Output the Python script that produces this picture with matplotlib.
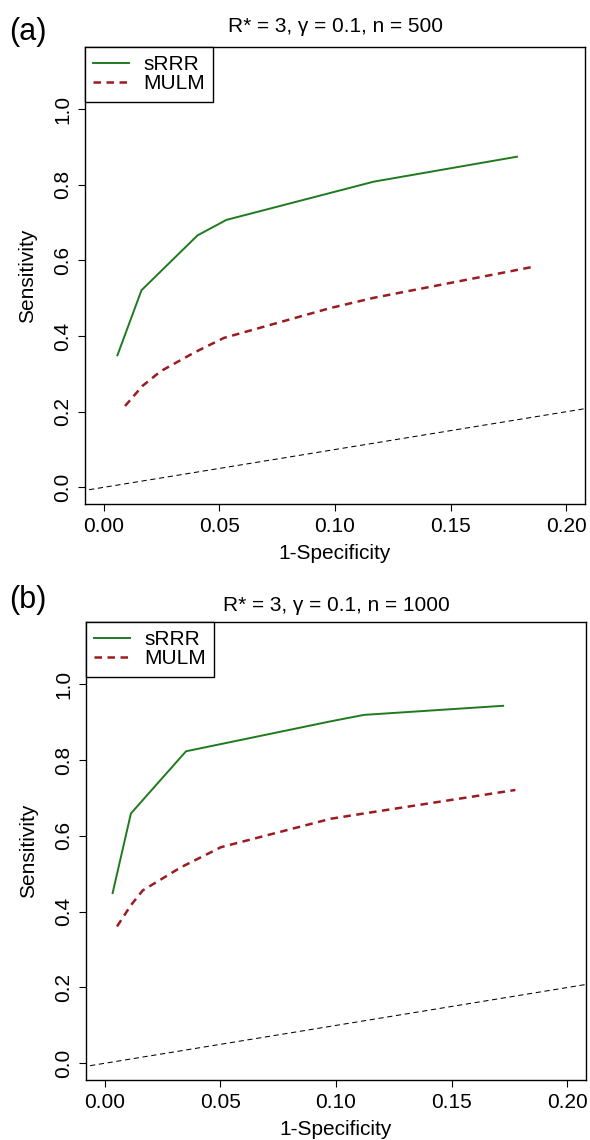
import numpy as np
import matplotlib.pyplot as plt

plt.rcParams['font.family'] = ['Liberation Sans', 'DejaVu Sans']

# panel (a): n = 500
fpr_srrr_a = [0.0060, 0.0164, 0.0406, 0.0531, 0.1167, 0.1786]
sens_srrr_a = [0.349, 0.521, 0.666, 0.707, 0.808, 0.874]
fpr_mulm_a = [0.0093, 0.0168, 0.0247, 0.0391, 0.0520, 0.0980, 0.1167, 0.1865]
sens_mulm_a = [0.215, 0.268, 0.307, 0.356, 0.395, 0.474, 0.501, 0.584]

# panel (b): n = 1000
fpr_srrr_b = [0.0035, 0.0114, 0.0352, 0.0977, 0.1121, 0.1722]
sens_srrr_b = [0.449, 0.659, 0.823, 0.902, 0.919, 0.943]
fpr_mulm_b = [0.0054, 0.0114, 0.0165, 0.0330, 0.0503, 0.0977, 0.1121, 0.1775]
sens_mulm_b = [0.361, 0.417, 0.456, 0.517, 0.570, 0.645, 0.659, 0.721]

titles = ["R* = 3, γ = 0.1, n = 500", "R* = 3, γ = 0.1, n = 1000"]
tags = ["(a)", "(b)"]
xticks = [0.00, 0.05, 0.10, 0.15, 0.20]
yticks = [0.0, 0.2, 0.4, 0.6, 0.8, 1.0]

W, H = 590, 1140
fig = plt.figure(figsize=(W / 100, H / 100), dpi=100)

# axes boxes in pixels: left, top, right, bottom
boxes = [(85, 47, 585, 504), (86, 622, 586, 1080)]
tag_y = [32, 600]
data = [(fpr_srrr_a, sens_srrr_a, fpr_mulm_a, sens_mulm_a),
        (fpr_srrr_b, sens_srrr_b, fpr_mulm_b, sens_mulm_b)]

green = "#1f7a1f"
red = "#9b1b20"
fs = 15

for i in range(2):
    l, t, r, b = boxes[i]
    ax = fig.add_axes([l / W, 1 - b / H, (r - l) / W, (b - t) / H])
    xs, ys, xm, ym = data[i]
    ax.plot(xs, ys, color=green, lw=1.4, label="sRRR")
    ax.plot(xm, ym, color=red, lw=1.8, ls=(0, (3, 2.2)), label="MULM")
    d = np.array([-0.01, 0.22])
    ax.plot(d, d, color="black", lw=0.75, ls=(0, (5, 3.5)))
    ax.set_xlim(-0.008, 0.208)
    ax.set_ylim(-0.044, 1.164)
    ax.set_xticks(xticks)
    ax.set_xticklabels(["%.2f" % v for v in xticks], fontsize=fs)
    ax.set_yticks(yticks)
    ax.set_yticklabels(["%.1f" % v for v in yticks], fontsize=fs, rotation=90, va="center")
    ax.tick_params(direction="out", length=5, width=0.8, pad=4)
    for s in ax.spines.values():
        s.set_linewidth(1.0)
    ax.set_xlabel("1-Specificity", fontsize=fs, labelpad=6)
    ax.set_ylabel("Sensitivity", fontsize=fs, labelpad=12)
    ax.set_title(titles[i], fontsize=fs, pad=11 if i == 0 else 8)
    leg = ax.legend(loc="upper left", fontsize=fs, frameon=True, fancybox=False,
                    edgecolor="black", framealpha=1, borderaxespad=0,
                    handlelength=1.7, handletextpad=0.7,
                    labelspacing=0.0, borderpad=0.4)
    leg.get_frame().set_linewidth(1.0)
    fig.text(9 / W, 1 - tag_y[i] / H, tags[i], fontsize=22, va="center", ha="left")

fig.savefig("out.png", dpi=100)
